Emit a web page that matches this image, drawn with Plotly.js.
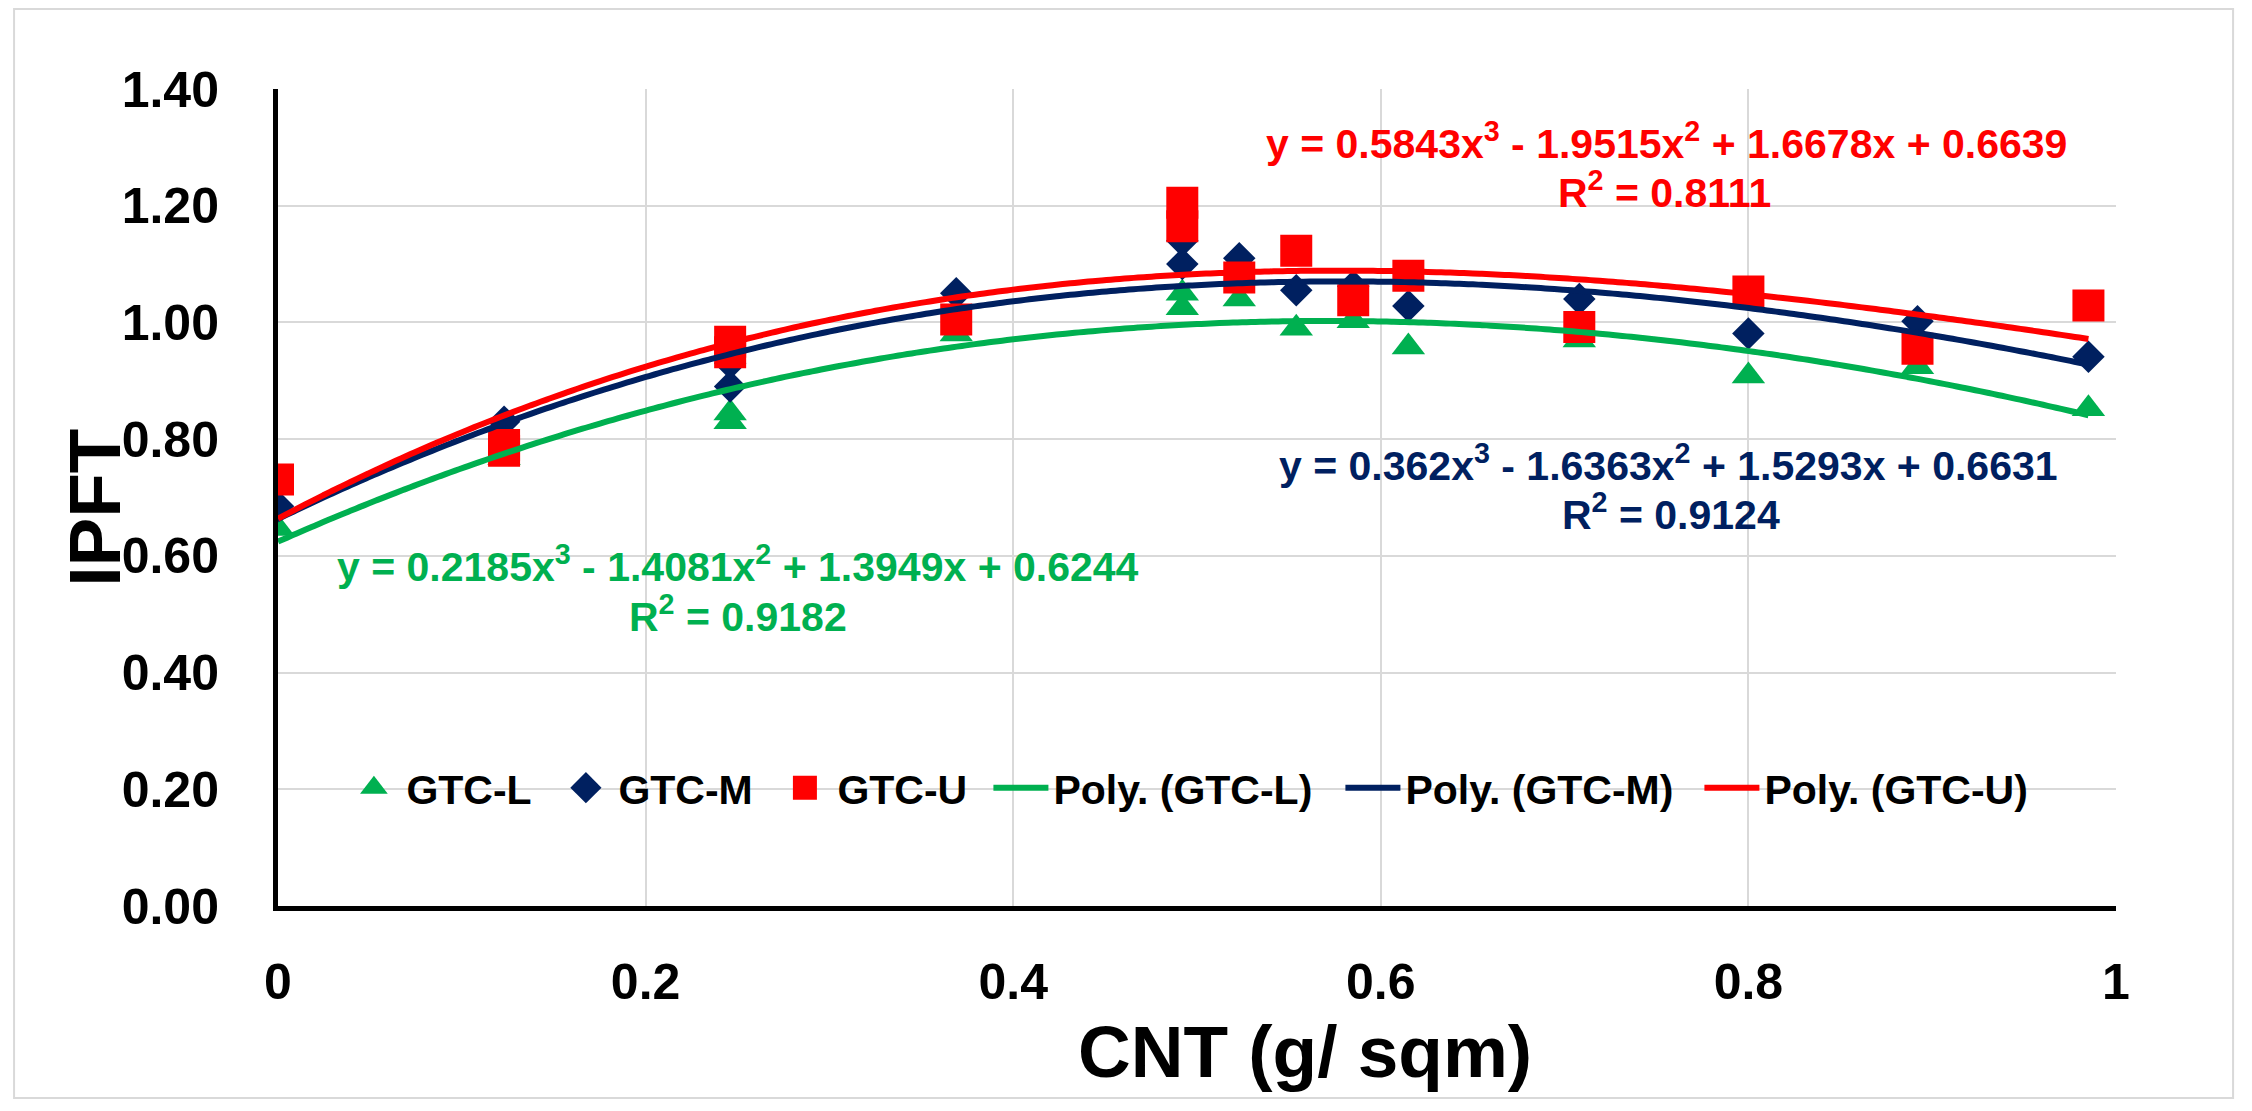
<!DOCTYPE html>
<html><head><meta charset="utf-8">
<script src="https://cdn.plot.ly/plotly-3.0.1.min.js"></script>
<style>html,body{margin:0;padding:0;background:#fff;} #chart{width:2252px;height:1111px;}</style>
</head><body><div id="chart"></div>
<script>
const FONT = 'Liberation Sans, Arial, sans-serif';
// CNT (g/ sqm) positions and IPFT values per series
const cntL = [0, 0.123, 0.246, 0.246, 0.369, 0.492, 0.492, 0.523, 0.554, 0.585, 0.615, 0.708, 0.8, 0.892, 0.985];
const gtcL = [0.647, 0.768, 0.845, 0.830, 0.980, 1.050, 1.025, 1.040, 0.990, 1.003, 0.958, 0.970, 0.908, 0.924, 0.852];
const cntM = [0, 0.123, 0.246, 0.246, 0.369, 0.492, 0.492, 0.523, 0.554, 0.585, 0.615, 0.708, 0.8, 0.892, 0.985];
const gtcM = [0.685, 0.830, 0.930, 0.890, 1.050, 1.140, 1.100, 1.110, 1.055, 1.062, 1.028, 1.040, 0.981, 1.002, 0.941];
const cntU = [0, 0.123, 0.123, 0.246, 0.246, 0.369, 0.492, 0.492, 0.523, 0.554, 0.585, 0.615, 0.708, 0.8, 0.892, 0.985];
const gtcU = [0.731, 0.790, 0.780, 0.967, 0.949, 1.005, 1.205, 1.165, 1.077, 1.123, 1.038, 1.080, 0.992, 1.053, 0.955, 1.029];
// Trendline (cubic) coefficients shown on the chart: [x^3, x^2, x, const]
const polyL = [0.2185, -1.4081, 1.3949, 0.6244];
const polyM = [0.362, -1.6363, 1.5293, 0.6631];
const polyU = [0.5843, -1.9515, 1.6678, 0.6639];
const r2L = '0.9182', r2M = '0.9124', r2U = '0.8111';
const seriesNames = ['GTC-L', 'GTC-M', 'GTC-U'];
const polyNames = ['Poly. (GTC-L)', 'Poly. (GTC-M)', 'Poly. (GTC-U)'];
const xTickVals = [0, 0.2, 0.4, 0.6, 0.8, 1];
const xTickText = ['0', '0.2', '0.4', '0.6', '0.8', '1'];
const yTickVals = [0, 0.2, 0.4, 0.6, 0.8, 1.0, 1.2, 1.4];
const yTickText = ['0.00', '0.20', '0.40', '0.60', '0.80', '1.00', '1.20', '1.40'];

const colors = ['#00B050', '#002060', '#FF0000'];

function polyCurve(p, xmax) {
  const xs = [], ys = [];
  const n = 200;
  for (let i = 0; i <= n; i++) {
    const x = xmax * i / n;
    xs.push(x);
    ys.push(p[0] * x * x * x + p[1] * x * x + p[2] * x + p[3]);
  }
  return {xs, ys};
}
function fmt(v) { return String(Math.abs(v)); }
function eqText(p) {
  return 'y = ' + fmt(p[0]) + 'x<sup>3</sup> ' + (p[1] < 0 ? '- ' : '+ ') + fmt(p[1]) +
    'x<sup>2</sup> ' + (p[2] < 0 ? '- ' : '+ ') + fmt(p[2]) + 'x ' + (p[3] < 0 ? '- ' : '+ ') + fmt(p[3]);
}

const xmaxL = Math.max(...cntL), xmaxM = Math.max(...cntM), xmaxU = Math.max(...cntU);
const cL = polyCurve(polyL, xmaxL), cM = polyCurve(polyM, xmaxM), cU = polyCurve(polyU, xmaxU);

const legendWidths = [142, 149, 146, 282, 289, 275];

const traces = [
  {x: cntL, y: gtcL, name: seriesNames[0], type: 'scatter', mode: 'markers',
   marker: {symbol: 'triangle-up', size: 29, color: colors[0], line: {width: 0}}, legendwidth: legendWidths[0]},
  {x: cntM, y: gtcM, name: seriesNames[1], type: 'scatter', mode: 'markers',
   marker: {symbol: 'diamond', size: 25, color: colors[1], line: {width: 0}}, legendwidth: legendWidths[1]},
  {x: cntU, y: gtcU, name: seriesNames[2], type: 'scatter', mode: 'markers',
   marker: {symbol: 'square', size: 32, color: colors[2], line: {width: 0}}, legendwidth: legendWidths[2]},
  {x: cL.xs, y: cL.ys, name: polyNames[0], type: 'scatter', mode: 'lines',
   line: {color: colors[0], width: 6, shape: 'spline'}, legendwidth: legendWidths[3]},
  {x: cM.xs, y: cM.ys, name: polyNames[1], type: 'scatter', mode: 'lines',
   line: {color: colors[1], width: 6, shape: 'spline'}, legendwidth: legendWidths[4]},
  {x: cU.xs, y: cU.ys, name: polyNames[2], type: 'scatter', mode: 'lines',
   line: {color: colors[2], width: 6, shape: 'spline'}, legendwidth: legendWidths[5]}
];

const eqFont = (c) => ({family: FONT, size: 41, color: c, weight: 'bold'});
const annotations = [
  {text: eqText(polyU), x: 0.7557, y: 0.9363, font: eqFont(colors[2])},
  {text: 'R<sup>2</sup> = ' + r2U, x: 0.7546, y: 0.8764, font: eqFont(colors[2])},
  {text: eqText(polyM), x: 0.7563, y: 0.5422, font: eqFont(colors[1])},
  {text: 'R<sup>2</sup> = ' + r2M, x: 0.7579, y: 0.4823, font: eqFont(colors[1])},
  {text: eqText(polyL), x: 0.2503, y: 0.4186, font: eqFont(colors[0])},
  {text: 'R<sup>2</sup> = ' + r2L, x: 0.2503, y: 0.3574, font: eqFont(colors[0])},
  {text: 'CNT (g/ sqm)', x: 0.5588, y: -0.178, font: {family: FONT, size: 73, color: '#000', weight: 'bold'}},
  {text: 'IPFT', x: -0.0998, y: 0.487, textangle: -90, font: {family: FONT, size: 73, color: '#000', weight: 'bold'}}
].map(a => Object.assign({xref: 'paper', yref: 'paper', xanchor: 'center', yanchor: 'middle', showarrow: false}, a));

const layout = {
  width: 2252, height: 1111,
  margin: {l: 278, r: 136, t: 89, b: 205, pad: 0},
  paper_bgcolor: '#fff', plot_bgcolor: '#fff',
  font: {family: FONT, color: '#000'},
  showlegend: true,
  legend: {orientation: 'h', x: 0.0345, y: 0.1444, xanchor: 'left', yanchor: 'middle',
           bgcolor: 'rgba(0,0,0,0)', borderwidth: 0, itemwidth: 55,
           font: {family: FONT, size: 41, color: '#000', weight: 'bold'}},
  xaxis: {range: [0, 1], tickvals: xTickVals, ticktext: xTickText, showgrid: true, gridcolor: '#D9D9D9', gridwidth: 2,
          zeroline: false, showline: true, linecolor: '#000', linewidth: 5, ticks: '',
          ticklabelstandoff: 28, tickfont: {family: FONT, size: 50, color: '#000', weight: 'bold'}},
  yaxis: {range: [0, 1.4], tickvals: yTickVals, ticktext: yTickText, showgrid: true, gridcolor: '#D9D9D9', gridwidth: 2,
          zeroline: false, showline: true, linecolor: '#000', linewidth: 5, ticks: '',
          ticklabelstandoff: 44, tickfont: {family: FONT, size: 50, color: '#000', weight: 'bold'}},
  annotations: annotations,
  shapes: [{type: 'rect', xref: 'paper', yref: 'paper', x0: -0.1436, x1: 1.0637, y0: -0.235, y1: 1.098,
            line: {color: '#D9D9D9', width: 2}, fillcolor: 'rgba(0,0,0,0)', layer: 'below'}]
};

Plotly.newPlot('chart', traces, layout, {displayModeBar: false, staticPlot: true}).then(function () {
  // Legend marker keys are capped at 16px by Plotly; enlarge them to match the reference keys (~24px)
  document.querySelectorAll('.legend .legendpoints path.scatterpts').forEach(function (p) {
    const t = p.getAttribute('transform') || '';
    p.setAttribute('transform', t + ' scale(1.5)');
  });
});
</script></body></html>
